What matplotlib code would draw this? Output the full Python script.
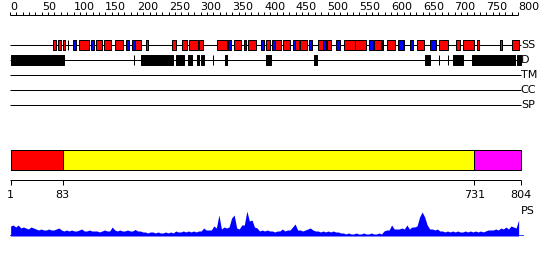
import matplotlib
matplotlib.use('Agg')
import matplotlib.pyplot as plt
import numpy as np

seq_len = 804

# secondary structure: helices (red) and strands (blue), residue ranges
helices = [(68, 73), (76, 80), (83, 86), (91, 92), (109, 125), (135, 145), (148, 159),
           (166, 178), (197, 207), (214, 218), (255, 262), (271, 278), (282, 296),
           (297, 304), (326, 341), (353, 364), (375, 388), (403, 410), (418, 426),
           (430, 441), (449, 455), (457, 468), (485, 493), (499, 506), (526, 543),
           (543, 560), (573, 584), (586, 588), (593, 606), (619, 621), (641, 652),
           (675, 690), (702, 708), (713, 731), (736, 738), (771, 775), (791, 801)]
strands = [(99, 104), (128, 133), (182, 188), (192, 197), (344, 348), (368, 372),
           (396, 400), (412, 418), (446, 449), (471, 475), (493, 497), (513, 520),
           (566, 572), (611, 619), (630, 635), (661, 671)]

# disordered regions
disorder = [(1, 85), (195, 196), (206, 257), (261, 274), (281, 286), (294, 298),
            (300, 302), (304, 306), (319, 320), (339, 342), (403, 411), (479, 484),
            (654, 662), (675, 676), (689, 690), (697, 707), (709, 713), (727, 795),
            (798, 804)]

track_names = ['SS', 'D', 'TM', 'CC', 'SP']

# domain architecture
domain_bounds = [1, 83, 731, 804]
domain_colors = ['#ff0000', '#ffff00', '#ff00ff']

# PS profile, one value every 4 residues starting at residue 1
ps_step = 4
ps_values = [10, 11, 9, 11, 8, 9, 8, 7, 9, 8,
             7, 6, 7, 6, 6, 7, 6, 6, 7, 8,
             6, 5, 6, 5, 6, 5, 5, 6, 7, 5,
             5, 6, 5, 5, 5, 4, 5, 6, 5, 5,
             9, 6, 5, 6, 5, 5, 6, 5, 5, 6.5,
             5, 5, 4, 4, 3, 4, 4, 3, 4, 3,
             3, 4, 3, 4, 3, 5, 4, 4, 5, 4,
             5, 4, 5, 4, 5, 5, 8, 6, 6, 6,
             10, 8, 21, 7, 9, 8, 9, 18, 21, 8,
             7, 11, 11, 25, 15, 16, 9, 8, 5, 6,
             5, 6, 5, 5, 4, 5, 5, 7, 5, 6,
             6, 9, 12, 6, 6, 5, 6, 7, 8, 6,
             5, 5, 4, 5, 4, 5, 4, 5, 4, 4,
             3, 3, 2, 3, 2, 2, 3, 2, 2, 3,
             2, 2, 3, 2, 2, 3, 2, 5, 6, 6,
             11, 7, 7, 7, 8, 7, 11, 7, 9, 9,
             10, 19, 24, 19, 11, 7, 7, 6, 7, 5,
             5, 4, 5, 4, 5, 4, 5, 4, 4, 5,
             4, 5, 4, 5, 4, 5, 4, 5, 6, 6,
             6, 7, 6, 8, 7, 9, 7, 10, 9, 8,
             16]

px = 0.72  # one pixel in points
xlim = (-10 / 0.635, 540 / 0.635)

fig = plt.figure(figsize=(5.5, 2.6), dpi=100)
ax = fig.add_axes([0, 0, 1, 1])
ax.set_xlim(*xlim)
ax.set_ylim(260, 0)
ax.axis('off')

# ruler
ax.hlines(15, 0, 800, color='black', lw=px)
ax.vlines(np.arange(0, 801, 10), 12, 15, color='black', lw=px)
for t in range(0, 801, 50):
    ax.text(t, 12, str(t), ha='left', va='bottom', fontsize=8)

# tracks
for i, name in enumerate(track_names):
    y = 45 + 15 * i
    ax.hlines(y, 0, seq_len, color='black', lw=px, zorder=1)
    ax.text(seq_len + 0.5, y, name, ha='left', va='center', fontsize=8)

ax.broken_barh([(a, b - a) for a, b in helices], (40, 10), facecolors='#ff0000',
               edgecolors='black', lw=px, zorder=2)
ax.broken_barh([(a, b - a) for a, b in strands], (40, 10), facecolors='#0000ff',
               edgecolors='black', lw=px, zorder=3)
ax.broken_barh([(a, b - a) for a, b in disorder], (55, 10), facecolors='black',
               edgecolors='black', lw=px, zorder=2)

# domain bar
for a, b, c in zip(domain_bounds[:-1], domain_bounds[1:], domain_colors):
    ax.broken_barh([(a, b - a)], (150, 20), facecolors=c, edgecolors='black', lw=px)

# domain scale
ax.hlines(180, 0, seq_len, color='black', lw=px)
ax.vlines(domain_bounds, 180, 185, color='black', lw=px)
for b in domain_bounds:
    ax.text(b, 195, str(b), ha='center', va='center', fontsize=8)

# PS profile
ax_ps = fig.add_axes([0, 24 / 260, 1, 25 / 260])
ax_ps.set_xlim(*xlim)
ax_ps.set_ylim(0, 25)
ax_ps.axis('off')
ps_x = 1 + ps_step * np.arange(len(ps_values))
ax_ps.fill_between(ps_x, ps_values, color='#0000ff', lw=0)
ax_ps.hlines(0, 0, 810, color='#0000ff', lw=px * 1.5)
ax.text(seq_len + 0.5, 211, 'PS', ha='left', va='center', fontsize=8)

fig.savefig('out.png', dpi=100)
